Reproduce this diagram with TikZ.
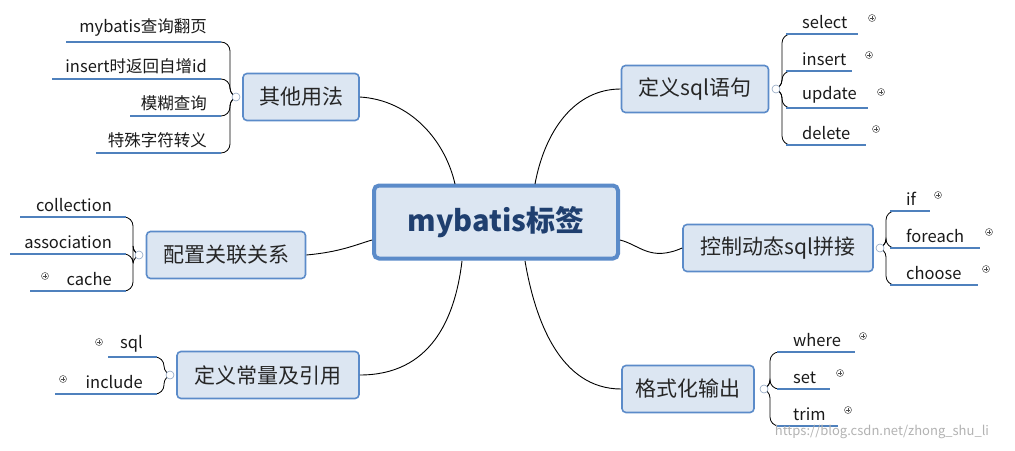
\documentclass[tikz,border=0pt]{standalone}
\usepackage{fontspec}
\setmainfont{Noto Sans CJK SC}
\definecolor{lineblue}{HTML}{4F81BD}
\definecolor{boxfill}{HTML}{DCE6F2}
\definecolor{boxdraw}{HTML}{5B8BC9}
\definecolor{textblue}{HTML}{1F3F6F}
\definecolor{thin}{HTML}{8FA5C2}
\tikzset{
	center/.style = {rectangle, rounded corners=5pt, draw=boxdraw, line width=4pt, fill=boxfill,
		minimum width=244pt, minimum height=73pt, font=\fontsize{29}{31}\selectfont\bfseries, text=textblue},
	branch/.style = {rectangle, rounded corners=4pt, draw=boxdraw, line width=1.6pt, fill=boxfill,
		minimum height=47pt, inner xsep=2pt, font=\fontsize{21}{23}\selectfont, text=black!85},
	leaf/.style = {font=\fontsize{16.5}{18}\selectfont, inner sep=2pt, text=black!90},
	under/.style = {lineblue, line width=2.6pt},
	twig/.style = {thin, line width=0.8pt, rounded corners=9pt},
	limb/.style = {thin, line width=0.9pt},
	fold/.style = {circle, draw=thin, fill=white, line width=0.6pt, inner sep=0pt, minimum size=8pt},
	plus/.style = {circle, draw=black!70, line width=0.5pt, inner sep=0pt, minimum size=7pt,
		path picture={\draw[black!70, line width=0.5pt] ([xshift=-2pt]path picture bounding box.center) -- ([xshift=2pt]path picture bounding box.center)
			([yshift=-2pt]path picture bounding box.center) -- ([yshift=2pt]path picture bounding box.center);}},
}
\begin{document}
\begin{tikzpicture}[x=1pt, y=-1pt]
\useasboundingbox (0,0) rectangle (1015,450);

% Placement of nodes
\node (root) [center] at (496,222) {mybatis标签};
\node (other) [branch, minimum width=116pt] at (301,97) {其他用法};
\node (assoc) [branch, minimum width=159pt] at (226,255) {配置关联关系};
\node (const) [branch, minimum width=182pt] at (268,375) {定义常量及引用};
\node (sqldef) [branch, minimum width=147pt] at (695,89) {定义sql语句};
\node (dyn) [branch, minimum width=190pt] at (778,248) {控制动态sql拼接};
\node (fmt) [branch, minimum width=132pt] at (688,389) {格式化输出};

% Placement of limbs
\draw [limb] (other.east) .. controls (410,100) and (445,140) .. (455,184);
\draw [limb] (assoc.east) .. controls (340,252) and (355,245) .. (372,240);
\draw [limb] (const.east) .. controls (430,375) and (455,320) .. (462,261);
\draw [limb] (sqldef.west) .. controls (575,89) and (545,130) .. (535,184);
\draw [limb] (dyn.west) .. controls (650,262) and (640,245) .. (620,240);
\draw [limb] (fmt.west) .. controls (560,389) and (535,320) .. (525,261);

% fold circles
\coordinate (fOther) at (236,97);
\coordinate (fAssoc) at (139,255);
\coordinate (fConst) at (170,375);
\coordinate (fSql) at (776,89);
\coordinate (fDyn) at (880,248);
\coordinate (fFmt) at (764,389);

% right leaves
\foreach \fo/\x/\y/\xe/\txt/\px in {fSql/786/34/858/select/872, fSql/786/71/852/insert/869,
		fSql/786/108/868/update/881, fSql/786/145/866/delete/876,
		fDyn/890/211/930/if/938, fDyn/890/248/980/foreach/989, fDyn/890/285/978/choose/986,
		fFmt/777/352/855/where/863, fFmt/777/389/830/set/840, fFmt/777/426/838/trim/848}{
	\draw [twig] (\fo) -- ++(6,0) |- (\x,\y);
	\draw [under] (\x,\y) -- (\xe,\y);
	\node [leaf, anchor=south west] at (\x+14,\y-3) {\txt};
	\node [plus] at (\px,\y-16) {};
}

% left leaves
\foreach \fo/\x/\y/\xs/\txt in {fOther/221/42/66/mybatis查询翻页, fOther/221/79/52/insert时返回自增id,
		fOther/221/116/130/模糊查询, fOther/221/153/96/特殊字符转义,
		fAssoc/126/217/20/collection, fAssoc/126/254/10/association, fAssoc/126/291/30/cache,
		fConst/157/357/108/sql, fConst/157/394/55/include}{
	\draw [twig] (\fo) -- ++(-6,0) |- (\x,\y);
	\draw [under] (\x,\y) -- (\xs,\y);
	\node [leaf, anchor=south east] at (\x-12,\y-3) {\txt};
}
\foreach \f in {fOther, fAssoc, fConst, fSql, fDyn, fFmt}
	\node [fold] at (\f) {};
\node [plus] at (45,276) {};
\node [plus] at (99,342) {};
\node [plus] at (63,379) {};

\node [font=\fontsize{13}{15}\selectfont, text=black!30] at (882,432) {https://blog.csdn.net/zhong\_shu\_li};
\end{tikzpicture}
\end{document}
